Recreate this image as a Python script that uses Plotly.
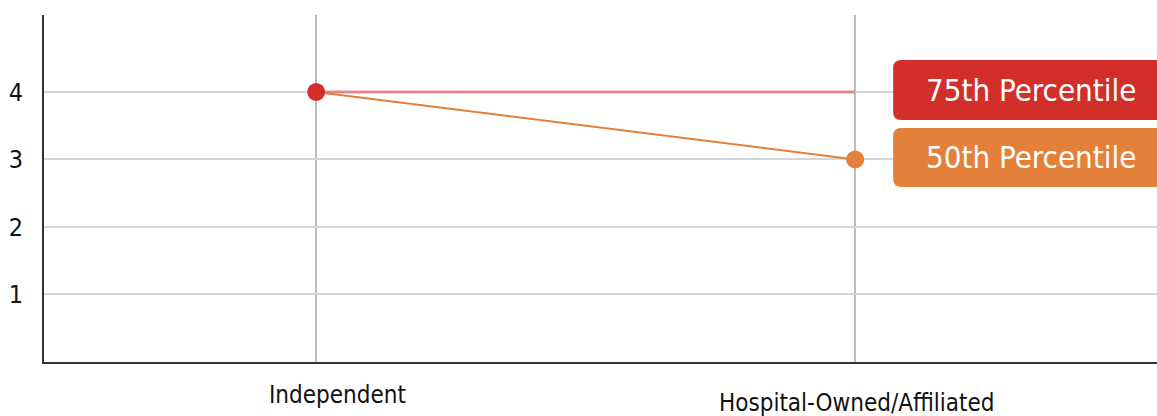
import plotly.graph_objects as go

categories = ["Independent", "Hospital-Owned/Affiliated"]
p75 = [4, 4]
p50 = [4, 3]
series_names = ["75th Percentile", "50th Percentile"]
y_ticks = [1, 2, 3, 4]

RED = "#d32f2a"
ORANGE = "#e3803a"
FONT = "DejaVu Sans Condensed, Liberation Sans Narrow, Roboto, sans-serif"

xs = list(range(len(categories)))

fig = go.Figure()
fig.add_trace(go.Scatter(x=xs, y=p50, mode="lines", line=dict(color=ORANGE, width=2),
                         hoverinfo="skip", showlegend=False))
fig.add_trace(go.Scatter(x=xs, y=p75, mode="lines", line=dict(color="rgba(225,110,110,0.75)", width=3),
                         hoverinfo="skip", showlegend=False))
fig.add_trace(go.Scatter(x=[xs[1]], y=[p50[1]], mode="markers", marker=dict(color=ORANGE, size=18),
                         name=series_names[1], showlegend=False))
fig.add_trace(go.Scatter(x=[xs[0]], y=[p75[0]], mode="markers", marker=dict(color=RED, size=18),
                         name=series_names[0], showlegend=False))

def rounded_box(x0, x1, y0, y1, rx, ry):
    return (f"M {x0+rx},{y0} L {x1},{y0} L {x1},{y1} L {x0+rx},{y1} "
            f"Q {x0},{y1} {x0},{y1-ry} L {x0},{y0+ry} Q {x0},{y0} {x0+rx},{y0} Z")

rx, ry = 0.015, 0.12
boxes = [(RED, 3.585, 4.474, series_names[0], 4.03), (ORANGE, 2.593, 3.467, series_names[1], 3.03)]
for color, b0, b1, label, ymid in boxes:
    fig.add_shape(type="path", path=rounded_box(1.0705, 1.62, b0, b1, rx, ry),
                  xref="x", yref="y", fillcolor=color, line=dict(width=0), layer="above")
    fig.add_annotation(x=1.326, y=ymid, xref="x", yref="y", text=label, showarrow=False,
                       font=dict(family=FONT, size=31, color="white"), xanchor="center", yanchor="middle")

# x category labels below the axis (small per-label offsets as in the reference)
label_off = [(0.04, -33), (0.004, -41)]
for cat, xi, (dx, ys) in zip(categories, xs, label_off):
    fig.add_annotation(x=xi + dx, y=0, xref="x", yref="y", text=cat, showarrow=False,
                       yshift=ys, font=dict(family=FONT, size=24, color="#111"),
                       xanchor="center", yanchor="middle")

fig.update_layout(
    width=1157, height=416,
    margin=dict(l=44, r=0, t=15, b=54, autoexpand=False),
    paper_bgcolor="white", plot_bgcolor="white",
    font=dict(family=FONT, color="#111"),
    showlegend=False,
    xaxis=dict(range=[-0.505, 1.56], tickvals=xs, showticklabels=False,
               showgrid=True, gridcolor="#bdbdbd", gridwidth=2, zeroline=False,
               showline=True, linecolor="#333", linewidth=2, fixedrange=True),
    yaxis=dict(range=[0, 5.14], tickvals=y_ticks, ticktext=[str(v) for v in y_ticks],
               tickfont=dict(size=25, family=FONT, color="#111"), ticks="", ticklabelstandoff=14,
               showgrid=True, gridcolor="#d6d6d6", gridwidth=2, zeroline=False,
               showline=True, linecolor="#333", linewidth=2, fixedrange=True),
)

fig.write_html("out.html", config={"displayModeBar": False},
               post_script="document.body.style.margin='0';document.body.style.overflow='hidden';")
